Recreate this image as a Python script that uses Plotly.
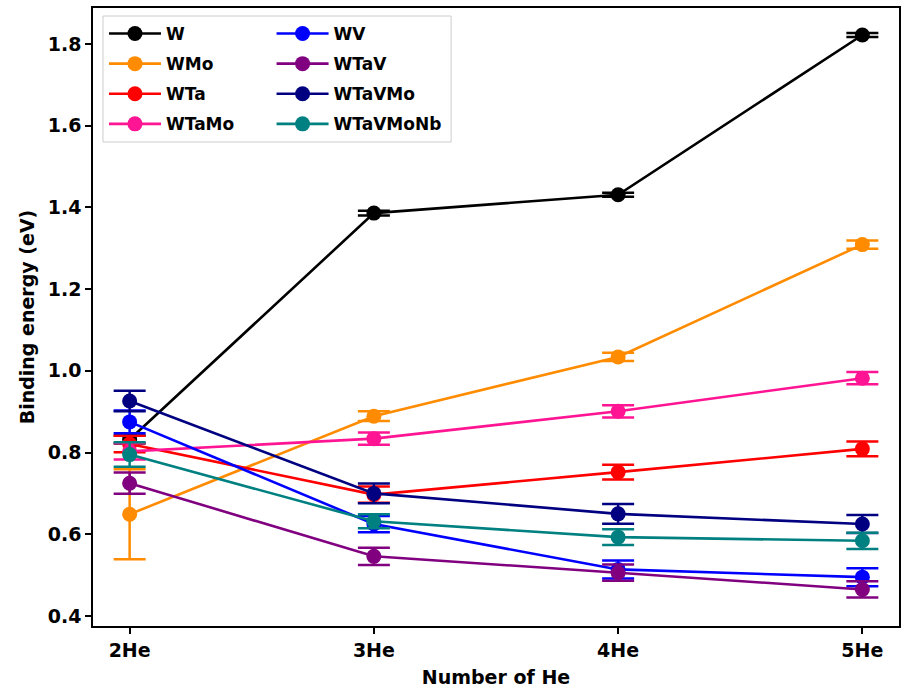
import plotly.graph_objects as go

# Helium cluster sizes
categories = ["2He", "3He", "4He", "5He"]

# Binding energies (eV) and their uncertainties for each alloy
W = [0.832, 1.386, 1.431, 1.822]
W_err = [0.010, 0.006, 0.005, 0.005]
WMo = [0.649, 0.889, 1.034, 1.309]
WMo_err = [0.110, 0.012, 0.010, 0.010]
WTa = [0.821, 0.697, 0.752, 0.809]
WTa_err = [0.020, 0.020, 0.018, 0.018]
WTaMo = [0.803, 0.834, 0.901, 0.982]
WTaMo_err = [0.020, 0.015, 0.015, 0.015]
WV = [0.875, 0.625, 0.514, 0.495]
WV_err = [0.028, 0.020, 0.022, 0.022]
WTaV = [0.725, 0.546, 0.506, 0.465]
WTaV_err = [0.026, 0.021, 0.020, 0.020]
WTaVMo = [0.926, 0.700, 0.650, 0.625]
WTaVMo_err = [0.025, 0.024, 0.024, 0.022]
WTaVMoNb = [0.795, 0.632, 0.593, 0.584]
WTaVMoNb_err = [0.030, 0.017, 0.019, 0.020]

series = [
    ("W", W, W_err, "#000000", "legend"),
    ("WMo", WMo, WMo_err, "#ff8c00", "legend"),
    ("WTa", WTa, WTa_err, "#ff0000", "legend"),
    ("WTaMo", WTaMo, WTaMo_err, "#ff1493", "legend"),
    ("WV", WV, WV_err, "#0000ff", "legend2"),
    ("WTaV", WTaV, WTaV_err, "#800080", "legend2"),
    ("WTaVMo", WTaVMo, WTaVMo_err, "#000080", "legend2"),
    ("WTaVMoNb", WTaVMoNb, WTaVMoNb_err, "#008080", "legend2"),
]

FONT = "DejaVu Sans"

fig = go.Figure()
for name, vals, errs, color, leg in series:
    fig.add_trace(go.Scatter(
        x=categories, y=vals, name=name, mode="lines+markers",
        line=dict(color=color, width=2.6),
        marker=dict(color=color, size=15),
        error_y=dict(type="data", array=errs, visible=True,
                     color=color, thickness=2.5, width=16),
        legend=leg, legendgroup=name,
    ))

# plot area geometry (pixels) for placing the legend frame
L, R, T, B = 93, 5, 8, 65
W_FIG, H_FIG = 906, 691
pw, ph = W_FIG - L - R, H_FIG - T - B

def px_x(x):
    return (x - L) / pw

def px_y(y):
    return (H_FIG - B - y) / ph

legend_common = dict(
    font=dict(family=FONT, size=17, color="black", weight="bold"),
    bgcolor="rgba(0,0,0,0)", borderwidth=0,
    xanchor="left", yanchor="top", traceorder="grouped",
    tracegroupgap=5, itemwidth=52,
)

fig.update_layout(
    width=W_FIG, height=H_FIG,
    margin=dict(l=L, r=R, t=T, b=B),
    paper_bgcolor="white", plot_bgcolor="white",
    font=dict(family=FONT, size=18, color="black", weight="bold"),
    showlegend=True,
    legend=dict(x=px_x(104), y=px_y(16), **legend_common),
    legend2=dict(x=px_x(272), y=px_y(16), **legend_common),
    xaxis=dict(
        range=[-0.15, 3.15], showgrid=False, zeroline=False,
        showline=True, linecolor="black", linewidth=1.5, mirror=True,
        ticks="outside", ticklen=6, tickwidth=1.5, tickcolor="black",
        tickfont=dict(family=FONT, size=19, weight="bold"),
        title=dict(text="Number of He", standoff=11,
                   font=dict(family=FONT, size=19, weight="bold")),
    ),
    yaxis=dict(
        range=[0.3755, 1.888], showgrid=False, zeroline=False,
        showline=True, linecolor="black", linewidth=1.5, mirror=True,
        ticks="outside", ticklen=6, tickwidth=1.5, tickcolor="black",
        tickvals=[0.4, 0.6, 0.8, 1.0, 1.2, 1.4, 1.6, 1.8], tickformat=".1f",
        tickfont=dict(family=FONT, size=19, weight="bold"),
        title=dict(text="Binding energy (eV)", standoff=8,
                   font=dict(family=FONT, size=19, weight="bold")),
    ),
    shapes=[dict(
        type="rect", xref="paper", yref="paper",
        x0=px_x(103), x1=px_x(452), y0=px_y(142), y1=px_y(16),
        line=dict(color="#cccccc", width=1),
        fillcolor="rgba(255,255,255,0.8)", layer="above",
    )],
)

fig.write_html("out.html")
